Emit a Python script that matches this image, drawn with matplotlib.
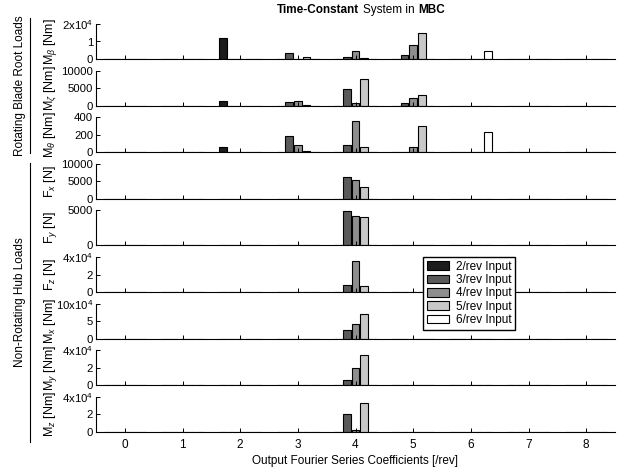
import numpy as np
import matplotlib
matplotlib.use("Agg")
import matplotlib.pyplot as plt
from matplotlib.lines import Line2D
from matplotlib.offsetbox import TextArea, HPacker, AnchoredOffsetbox

plt.rcParams['font.family'] = ['Liberation Sans', 'DejaVu Sans']
plt.rcParams['mathtext.fontset'] = 'custom'
plt.rcParams['mathtext.rm'] = 'Liberation Sans'
plt.rcParams['mathtext.it'] = 'Liberation Sans:italic'
plt.rcParams['mathtext.bf'] = 'Liberation Sans:bold'

# harmonics on the x axis and the input cases
harmonics = [0, 1, 2, 3, 4, 5, 6, 7, 8]
inputs = ["2/rev Input", "3/rev Input", "4/rev Input", "5/rev Input", "6/rev Input"]
colors = ["#1c1c1c", "#5a5a5a", "#8e8e8e", "#c8c8c8", "#ffffff"]

# rows: 2/rev .. 6/rev input, columns: output harmonic 0..8
m_beta = [[0, 0, 11800, 0, 0, 0, 0, 0, 0],
          [0, 0, 0, 3300, 1000, 2300, 0, 0, 0],
          [0, 0, 0, 100, 4400, 8000, 0, 0, 0],
          [0, 0, 0, 1300, 300, 14700, 0, 0, 0],
          [0, 0, 0, 0, 0, 0, 4700, 0, 0]]
m_zeta = [[0, 0, 1200, 0, 0, 0, 0, 0, 0],
          [0, 0, 0, 1150, 4800, 600, 0, 0, 0],
          [0, 0, 0, 1200, 600, 2200, 0, 0, 0],
          [0, 0, 0, 300, 7600, 3100, 0, 0, 0],
          [0, 0, 0, 0, 0, 0, 0, 0, 0]]
m_theta = [[0, 0, 60, 0, 0, 0, 0, 0, 0],
           [0, 0, 0, 180, 80, 5, 0, 0, 0],
           [0, 0, 0, 85, 362, 54, 0, 0, 0],
           [0, 0, 0, 15, 60, 300, 0, 0, 0],
           [0, 0, 0, 0, 0, 0, 236, 0, 0]]
f_x = [[0, 0, 0, 0, 0, 0, 0, 0, 0],
       [0, 0, 0, 0, 6100, 0, 0, 0, 0],
       [0, 0, 0, 0, 5400, 0, 0, 0, 0],
       [0, 0, 0, 0, 3300, 0, 0, 0, 0],
       [0, 0, 0, 0, 0, 0, 0, 0, 0]]
f_y = [[0, 0, 0, 0, 0, 0, 0, 0, 0],
       [0, 0, 0, 0, 4950, 0, 0, 0, 0],
       [0, 0, 30, 0, 4200, 0, 0, 0, 0],
       [0, 0, 0, 0, 4100, 0, 0, 0, 0],
       [0, 0, 0, 0, 0, 0, 0, 0, 0]]
f_z = [[0, 0, 0, 0, 0, 0, 0, 0, 0],
       [0, 0, 0, 0, 8000, 0, 0, 0, 0],
       [0, 0, 0, 0, 35000, 0, 0, 0, 0],
       [0, 0, 0, 0, 7200, 0, 0, 0, 0],
       [0, 0, 0, 0, 0, 0, 0, 0, 0]]
m_x = [[0, 0, 0, 0, 0, 0, 0, 0, 0],
       [0, 0, 0, 0, 23500, 0, 0, 0, 0],
       [0, 0, 0, 0, 41000, 0, 0, 0, 0],
       [0, 0, 0, 0, 70000, 0, 0, 0, 0],
       [0, 0, 0, 0, 0, 0, 0, 0, 0]]
m_y = [[0, 0, 0, 0, 0, 0, 0, 0, 0],
       [0, 0, 0, 0, 6200, 0, 0, 0, 0],
       [0, 0, 0, 0, 20000, 0, 0, 0, 0],
       [0, 0, 0, 0, 35000, 0, 0, 0, 0],
       [0, 0, 0, 0, 0, 0, 0, 0, 0]]
m_z = [[0, 0, 0, 0, 0, 0, 0, 0, 0],
       [0, 0, 0, 0, 20000, 0, 0, 0, 0],
       [0, 0, 0, 0, 2400, 0, 0, 0, 0],
       [0, 0, 0, 0, 33000, 0, 0, 0, 0],
       [0, 0, 0, 0, 0, 0, 0, 0, 0]]

panels = [
    (m_beta, r"M$_\beta$ [Nm]", [0, 1e4, 2e4], ["0", "1", "2x10$^4$"]),
    (m_zeta, r"M$_\zeta$ [Nm]", [0, 5000, 10000], ["0", "5000", "10000"]),
    (m_theta, r"M$_\theta$ [Nm]", [0, 200, 400], ["0", "200", "400"]),
    (f_x, r"F$_x$ [N]", [0, 5000, 10000], ["0", "5000", "10000"]),
    (f_y, r"F$_y$ [N]", [0, 5000], ["0", "5000"]),
    (f_z, r"F$_z$ [N]", [0, 2e4, 4e4], ["0", "2", "4x10$^4$"]),
    (m_x, r"M$_x$ [Nm]", [0, 5e4, 1e5], ["0", "5", "10x10$^4$"]),
    (m_y, r"M$_y$ [Nm]", [0, 2e4, 4e4], ["0", "2", "4x10$^4$"]),
    (m_z, r"M$_z$ [Nm]", [0, 2e4, 4e4], ["0", "2", "4x10$^4$"]),
]

W, H = 624, 469
fig = plt.figure(figsize=(W / 100, H / 100), dpi=100)

x = np.array(harmonics, dtype=float)
offsets = [-0.3, -0.15, 0.0, 0.15, 0.3]
bw = 0.13
fs = 8.5

axes = []
for k, (vals, ylab, yt, ytl) in enumerate(panels):
    top = 24 + k * 46.6
    ax = fig.add_axes([96 / W, 1 - (top + 35) / H, 519 / W, 35 / H])
    for i in range(5):
        ax.bar(x + offsets[i], vals[i], width=bw, color=colors[i],
               edgecolor="black", linewidth=0.8, label=inputs[i])
    ax.set_xlim(-0.5, 8.5)
    ax.set_ylim(yt[0], yt[-1])
    ax.set_yticks(yt)
    ax.set_yticklabels(ytl)
    ax.set_xticks(harmonics)
    ax.spines["top"].set_visible(False)
    ax.spines["right"].set_visible(False)
    ax.tick_params(direction="in", length=3, width=0.7, labelsize=8.2, pad=2)
    ax.tick_params(axis="x", pad=5, labelsize=fs)
    if k < len(panels) - 1:
        ax.tick_params(axis="x", labelbottom=False)
    fig.text(50 / W, 1 - (top + 17.5) / H, ylab, rotation=90,
             ha="center", va="center", fontsize=9)
    axes.append(ax)

axes[-1].set_xlabel("Output Fourier Series Coefficients [/rev]", fontsize=fs, labelpad=3)

# group labels with vertical lines
fig.text(20 / W, 1 - 86 / H, "Rotating Blade Root Loads", rotation=90,
         ha="center", va="center", fontsize=fs)
fig.add_artist(Line2D([30 / W, 30 / W], [1 - 18 / H, 1 - 153 / H], color="black", lw=0.8))
fig.text(20 / W, 1 - 302 / H, "Non-Rotating Hub Loads", rotation=90,
         ha="center", va="center", fontsize=fs)
fig.add_artist(Line2D([30 / W, 30 / W], [1 - 163 / H, 1 - 442 / H], color="black", lw=0.8))

# title with mixed weights
title = HPacker(children=[
    TextArea("Time-Constant", textprops=dict(fontsize=fs, fontweight="bold")),
    TextArea("System in", textprops=dict(fontsize=fs)),
    TextArea("MBC", textprops=dict(fontsize=fs, fontweight="bold")),
], align="baseline", pad=0, sep=2.5)
anch = AnchoredOffsetbox(loc="center", child=title, frameon=False, pad=0,
                         bbox_to_anchor=(361 / W, 1 - 10 / H),
                         bbox_transform=fig.transFigure, borderpad=0)
fig.add_artist(anch)

handles, labels = axes[0].get_legend_handles_labels()
leg = fig.legend(handles, labels, loc="upper left", bbox_to_anchor=(423 / W, 1 - 257 / H),
                 fontsize=fs, fancybox=False, framealpha=1, edgecolor="black",
                 handlelength=1.9, handleheight=0.75, labelspacing=0.12,
                 borderpad=0.3, handletextpad=0.6, borderaxespad=0)
leg.get_frame().set_linewidth(1.0)

fig.savefig("out.png", dpi=100)
